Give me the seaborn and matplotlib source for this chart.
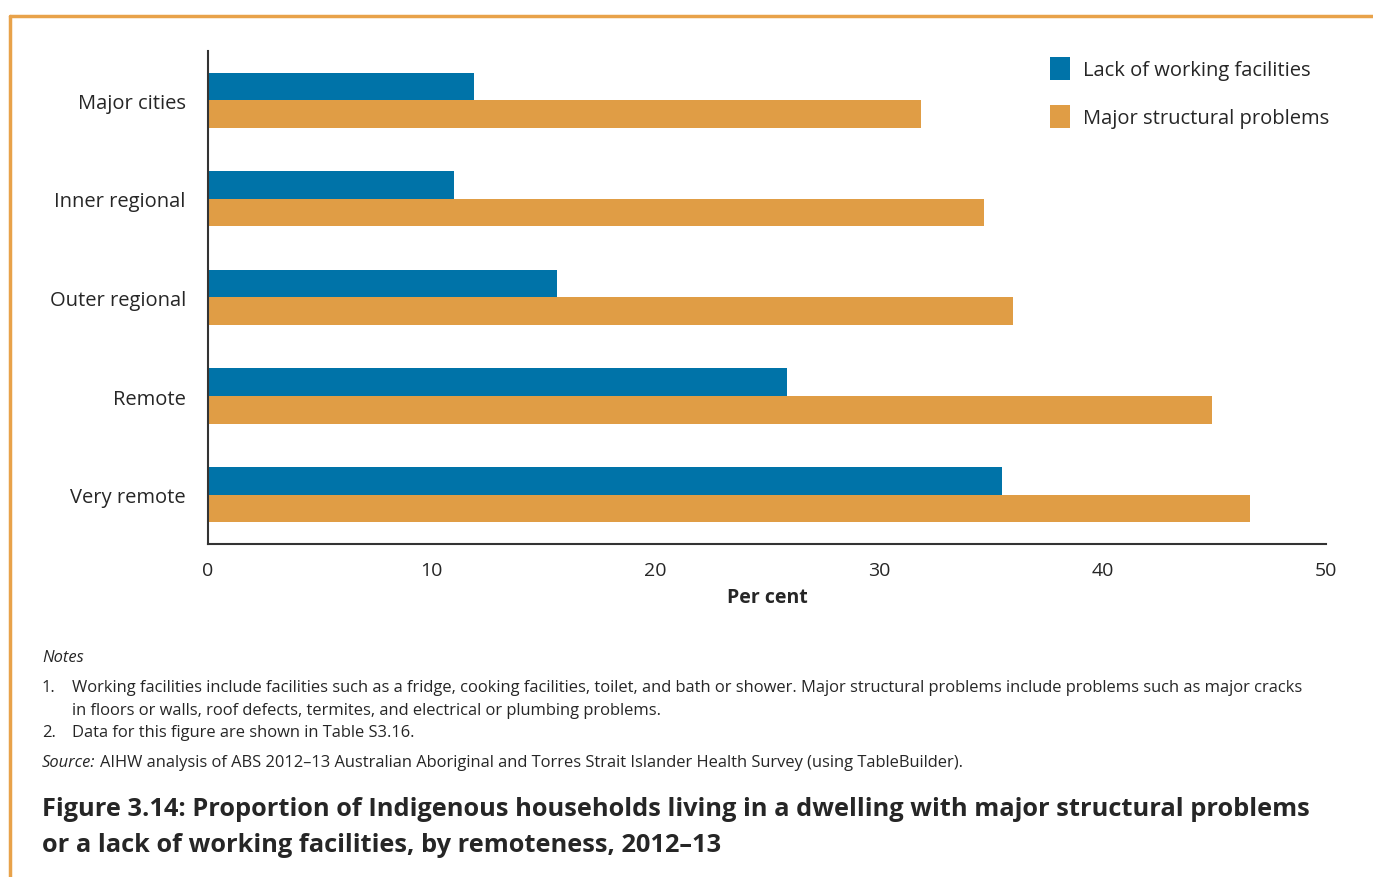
import matplotlib
matplotlib.use("Agg")
import matplotlib.pyplot as plt
from matplotlib.lines import Line2D
from matplotlib.patches import Patch
import seaborn as sns
import pandas as pd

# data (per cent)
regions = ["Major cities", "Inner regional", "Outer regional", "Remote", "Very remote"]
series = ["Lack of working facilities", "Major structural problems"]
lack_facilities = [11.9, 11.0, 15.6, 25.9, 35.5]
structural_problems = [31.9, 34.7, 36.0, 44.9, 46.6]
x_ticks = [0, 10, 20, 30, 40, 50]

colors = {"Lack of working facilities": "#0073A8", "Major structural problems": "#E09D45"}
frame_color = "#E8A24A"

df = pd.DataFrame({
    "region": regions * 2,
    "series": [series[0]] * len(regions) + [series[1]] * len(regions),
    "value": lack_facilities + structural_problems,
})

sns.set_style("white")
plt.rcParams["font.family"] = ["Open Sans", "DejaVu Sans"]

fig = plt.figure(figsize=(13.73, 8.78), dpi=100)
ax = fig.add_axes([0.1515, 0.3793, 0.8143, 0.5615])

sns.barplot(data=df, y="region", x="value", hue="series", order=regions,
            hue_order=series, palette=colors, orient="h", width=0.56,
            gap=0, saturation=1, linewidth=0, legend=False, ax=ax)

ax.set_xlim(0, 50)
ax.set_ylim(4.5, -0.5)
ax.set_xticks(x_ticks)
ax.set_xticklabels([str(t) for t in x_ticks], fontsize=14)
ax.tick_params(axis="x", direction="out", length=6, width=1.2, color="#333333", pad=6)
ax.tick_params(axis="y", length=0, pad=16, labelsize=14.5)
ax.set_ylabel("")
ax.set_xlabel("Per cent", fontsize=14, fontweight="bold", labelpad=6)
for s in ["top", "right"]:
    ax.spines[s].set_visible(False)
for s in ["left", "bottom"]:
    ax.spines[s].set_color("#333333")
    ax.spines[s].set_linewidth(1.5)

handles = [Patch(facecolor=colors[s], edgecolor="none") for s in series]
ax.legend(handles, series, loc="upper right", bbox_to_anchor=(1.019, 1.024),
          frameon=False, fontsize=14.5, handlelength=1.0, handleheight=1.35,
          handletextpad=0.65, labelspacing=1.25)

# orange frame (top and left edges)
fig.add_artist(Line2D([10 / 1373, 1], [1 - 17 / 878] * 2, color=frame_color, lw=2.5))
fig.add_artist(Line2D([10 / 1373] * 2, [0, 1 - 17 / 878], color=frame_color, lw=2.5))

# notes and caption
def fy(px):
    return 1 - px / 878

fs = 11.9
fig.text(42 / 1373, fy(658), "Notes", fontsize=fs, style="italic", va="center")
fig.text(42 / 1373, fy(688), "1.", fontsize=fs, va="center")
fig.text(72 / 1373, fy(688), "Working facilities include facilities such as a fridge, cooking facilities, toilet, and bath or shower. "
         "Major structural problems include problems such as major cracks", fontsize=fs, va="center")
fig.text(72 / 1373, fy(711), "in floors or walls, roof defects, termites, and electrical or plumbing problems.",
         fontsize=fs, va="center")
fig.text(42 / 1373, fy(733), "2.", fontsize=fs, va="center")
fig.text(72 / 1373, fy(733), "Data for this figure are shown in Table S3.16.", fontsize=fs, va="center")
fig.text(42 / 1373, fy(763), "Source:", fontsize=fs, style="italic", va="center")
fig.text(100 / 1373, fy(763), "AIHW analysis of ABS 2012\u201313 Australian Aboriginal and Torres Strait Islander "
         "Health Survey (using TableBuilder).", fontsize=fs, va="center")

fig.text(42 / 1373, fy(810), "Figure 3.14: Proportion of Indigenous households living in a dwelling with major structural problems",
         fontsize=18.3, fontweight="bold", va="center")
fig.text(42 / 1373, fy(846), "or a lack of working facilities, by remoteness, 2012\u201313",
         fontsize=18.3, fontweight="bold", va="center")

fig.savefig("out.png", dpi=100)
